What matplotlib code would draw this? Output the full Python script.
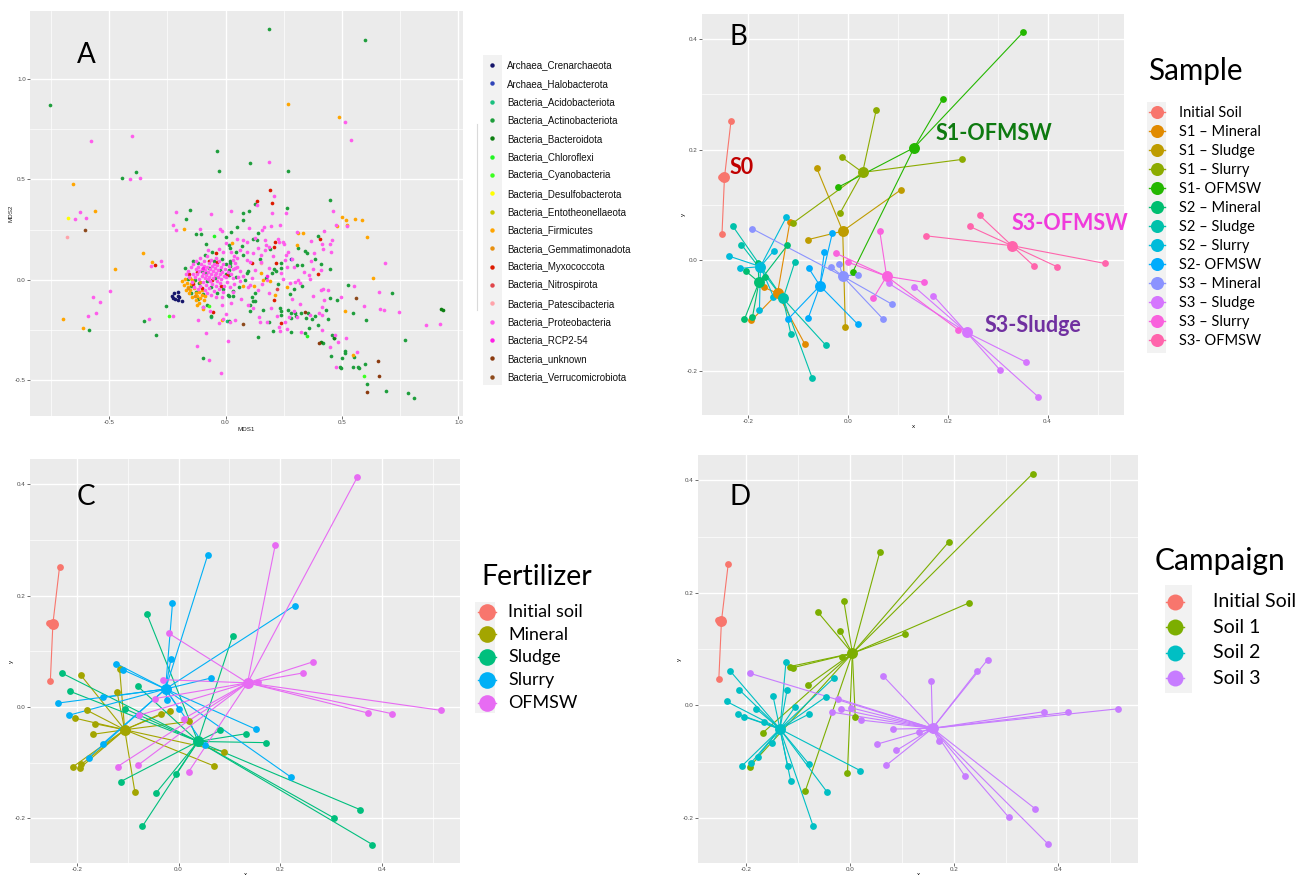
import matplotlib
matplotlib.use("Agg")
import matplotlib.pyplot as plt
from matplotlib.lines import Line2D
from matplotlib.patches import Rectangle
import pandas as pd

plt.rcParams["axes.unicode_minus"] = False
plt.rcParams["font.family"] = ["Liberation Sans", "DejaVu Sans"]

W, H = 1299, 875

# ---------------- panel A : MDS of taxa ----------------
crenarchaeota = [(-0.229, -0.081), (-0.220, -0.068), (-0.206, -0.063), (-0.203, -0.081), (-0.215, -0.096),
                 (-0.188, -0.105), (-0.205, -0.101), (-0.198, -0.088), (-0.224, -0.090)]
halobacterota = [(0.283, 0.101)]
acidobacteriota = [(-0.061, -0.186), (0.007, -0.204), (-0.097, -0.135)]
actinobacteriota = [
    (0.186, 1.248), (0.599, 1.196), (-0.755, 0.869), (-0.036, 0.641), (0.107, 0.583), (-0.026, 0.543),
    (0.270, 0.540), (-0.444, 0.508), (-0.384, 0.537), (0.716, -0.068), (0.772, -0.302), (0.785, -0.566),
    (0.808, -0.588), (0.688, -0.556), (0.607, -0.518), (0.600, -0.420), (0.568, -0.434), (0.572, -0.440),
    (0.548, -0.435), (0.550, -0.384), (0.512, -0.355), (0.515, -0.365), (0.501, -0.392), (0.495, -0.442),
    (0.491, -0.436), (0.451, -0.379), (0.418, -0.317), (0.602, -0.201), (0.548, -0.164), (0.528, -0.027),
    (-0.095, -0.390), (-0.349, -0.204), (-0.587, -0.252),
    (0.447, 0.395), (0.127, 0.377), (-0.152, 0.347), (0.074, 0.332), (0.102, 0.344), (0.266, 0.358),
    (-0.172, 0.301), (0.074, 0.296), (-0.129, 0.226), (-0.105, 0.229), (0.023, 0.236), (0.051, 0.264),
    (0.141, 0.234), (0.395, 0.218), (0.117, 0.201), (0.134, 0.198), (0.001, 0.211), (0.013, 0.173),
    (-0.084, 0.178), (0.018, 0.156), (0.046, 0.136), (0.070, 0.168), (0.074, 0.123), (0.193, 0.151),
    (0.341, 0.145), (0.349, 0.131), (0.239, 0.083), (0.238, 0.056), (0.206, 0.055), (0.215, 0.045),
    (0.199, 0.035), (0.307, 0.075), (0.330, 0.073), (0.411, 0.078), (0.447, 0.051), (0.098, 0.045),
    (0.092, 0.032), (0.017, 0.091), (0.018, 0.070), (0.014, 0.050), (0.000, 0.078), (0.084, -0.002),
    (0.013, 0.025), (0.057, -0.035), (0.292, -0.047), (0.275, -0.070), (0.127, -0.068), (0.115, -0.085),
    (0.127, -0.106), (0.105, -0.128), (0.448, -0.093), (0.478, -0.101), (0.030, -0.081), (0.014, -0.083),
    (0.107, -0.154), (0.141, -0.287), (0.240, -0.154), (0.240, -0.176), (0.280, -0.168), (0.283, -0.193),
    (0.299, -0.168), (0.326, -0.168), (0.346, -0.193), (0.383, -0.181), (0.440, -0.198), (0.397, -0.228),
    (0.340, -0.264), (0.458, -0.277), (0.464, -0.292), (0.283, -0.259), (-0.297, -0.276), (-0.255, -0.131),
    (0.186, -0.213), (0.119, -0.105), (0.016, -0.208), (-0.063, -0.179), (-0.081, -0.128), (0.233, -0.143),
    (0.269, -0.151), (0.302, -0.179), (0.371, -0.198), (0.354, -0.168),
    (-0.175, 0.060), (-0.160, 0.005), (-0.150, -0.030), (-0.140, 0.095), (-0.128, -0.060), (-0.118, 0.085),
    (-0.112, -0.015), (-0.100, 0.045), (-0.095, -0.070), (-0.088, 0.125), (-0.080, -0.005), (-0.070, 0.060),
    (-0.062, -0.035), (-0.050, 0.095), (-0.045, 0.010), (-0.035, -0.065), (-0.025, 0.050), (-0.015, 0.105),
    (-0.010, -0.045), (0.000, 0.030), (0.010, -0.075), (0.020, 0.085), (0.030, -0.055), (0.045, 0.015),
    (-0.130, 0.000), (-0.085, 0.035), (-0.058, 0.140), (-0.120, -0.095), (-0.150, -0.065),
    (0.150, 0.105), (0.175, 0.010), (0.225, -0.020), (0.330, -0.030), (0.385, 0.105), (0.310, 0.160),
    (0.160, -0.150), (0.205, -0.255), (0.360, -0.240), (0.430, -0.150)]
bacteroidota = [(0.926, -0.148), (0.935, -0.150), (0.464, -0.292), (0.411, -0.309)]
chloroflexi = [(-0.048, 0.219), (0.351, -0.281)]
cyanobacteria = [(0.595, -0.478), (-0.243, -0.181), (-0.070, -0.130)]
desulfobacterota = [(-0.676, 0.306)]
entotheonellaeota = [(-0.140, -0.012)]
firmicutes = [
    (0.270, 0.874), (0.486, 0.812), (-0.654, 0.478), (-0.560, 0.344), (0.555, 0.304), (0.587, 0.296),
    (0.606, 0.211), (0.633, 0.010), (-0.474, 0.051), (-0.353, 0.135), (-0.698, -0.198), (-0.613, -0.239),
    (0.549, -0.374), (0.502, 0.314), (0.519, 0.297), (-0.178, 0.251), (0.312, 0.231), (0.331, 0.231),
    (0.521, 0.274), (0.028, 0.184), (0.307, 0.173), (0.152, 0.033), (0.266, -0.037), (0.193, -0.007),
    (0.162, -0.002), (0.077, -0.032), (0.124, -0.033), (0.212, -0.076), (0.511, -0.158), (-0.017, -0.201),
    (-0.317, 0.090), (0.478, 0.267),
    (-0.186, -0.005), (-0.175, 0.002), (-0.165, -0.015), (-0.179, -0.027), (-0.161, -0.035), (-0.147, -0.023),
    (-0.151, -0.051), (-0.137, -0.043), (-0.129, -0.068), (-0.115, -0.060), (-0.101, -0.076), (-0.144, -0.088),
    (-0.129, -0.101), (-0.115, -0.118), (-0.094, -0.101), (-0.087, -0.081), (-0.169, -0.051), (-0.158, -0.068),
    (-0.122, -0.081), (-0.108, -0.093), (-0.144, -0.002), (-0.101, -0.051), (-0.097, -0.148), (-0.122, -0.126),
    (-0.151, 0.007)]
gemmatimonadota = [(-0.160, -0.040), (-0.130, -0.080), (-0.110, -0.010)]
myxococcota = [
    (0.193, 0.445), (0.134, 0.390), (0.198, 0.380), (0.404, 0.203), (-0.043, 0.135), (0.206, 0.164),
    (0.212, 0.186), (0.215, 0.083), (0.112, 0.081), (0.397, 0.028), (0.206, -0.101), (0.007, 0.023),
    (0.238, -0.218), (-0.054, -0.159), (-0.304, 0.073), (-0.122, 0.040), (-0.070, 0.095), (-0.037, 0.090),
    (-0.140, -0.020), (-0.100, -0.040), (-0.060, 0.000), (-0.020, -0.030), (-0.155, 0.030)]
nitrospirota = [(0.223, -0.045)]
patescibacteria = [(-0.681, 0.214), (0.152, 0.085)]
proteobacteria = [
    (0.511, 0.786), (0.539, 0.698), (-0.580, 0.691), (-0.401, 0.719), (0.188, 0.588), (-0.411, 0.502),
    (-0.366, 0.507), (-0.626, 0.336), (-0.647, 0.301), (-0.600, 0.307), (0.687, 0.085), (0.660, -0.060),
    (0.663, -0.145), (0.679, -0.151), (0.747, -0.159), (0.859, -0.226), (0.922, -0.223), (0.563, -0.362),
    (0.475, -0.434), (0.448, -0.336), (0.481, -0.309), (0.552, -0.032), (0.596, -0.133), (0.010, -0.306),
    (-0.018, -0.465), (-0.073, -0.402), (-0.124, -0.331), (-0.330, -0.196), (-0.498, -0.055), (-0.570, -0.085),
    (-0.541, -0.111), (-0.558, -0.168), (-0.590, -0.179),
    (0.461, 0.344), (-0.211, 0.336), (-0.063, 0.329), (0.023, 0.344), (0.198, 0.334), (0.259, 0.332),
    (-0.226, 0.271), (-0.212, 0.246), (-0.108, 0.254), (-0.023, 0.251), (-0.017, 0.241), (0.102, 0.259),
    (0.166, 0.261), (0.196, 0.267), (0.232, 0.272), (0.156, 0.249), (0.306, 0.236), (0.422, 0.244),
    (0.475, 0.271), (0.127, 0.209), (0.457, 0.198), (0.168, 0.198), (0.048, 0.201), (0.073, 0.198),
    (0.001, 0.181), (-0.077, 0.146), (-0.027, 0.151), (-0.013, 0.136), (0.024, 0.138), (0.064, 0.146),
    (0.094, 0.140), (0.119, 0.131), (0.151, 0.123), (0.172, 0.174), (0.169, 0.148), (0.186, 0.164),
    (0.226, 0.203), (0.230, 0.189), (0.248, 0.189), (0.252, 0.178), (0.269, 0.140), (0.259, 0.121),
    (0.367, 0.194), (0.378, 0.135), (0.415, 0.178), (0.420, 0.153), (0.448, 0.178), (0.451, 0.136),
    (0.257, 0.100), (0.240, 0.035), (0.262, 0.065), (0.292, 0.063), (0.368, 0.093), (0.411, 0.047),
    (0.374, 0.053), (0.154, 0.086), (0.107, 0.086), (0.127, 0.047), (0.091, 0.096), (0.063, 0.042),
    (0.051, 0.061), (0.041, 0.085), (0.048, 0.106), (0.037, 0.120), (0.033, 0.051), (0.360, 0.025),
    (0.361, 0.005), (0.313, -0.003), (0.300, -0.012), (0.319, -0.017), (0.279, -0.015), (0.179, -0.002),
    (0.155, -0.023), (0.075, 0.020), (0.055, 0.015), (0.031, 0.007), (0.063, -0.005), (0.098, -0.035),
    (0.105, -0.027), (0.410, -0.053), (0.417, -0.045), (0.440, -0.051), (0.098, -0.126), (0.425, -0.100),
    (0.494, -0.088), (0.415, -0.138), (0.034, -0.060), (-0.017, -0.085), (0.024, -0.118), (-0.016, -0.126),
    (0.119, -0.143), (0.145, -0.184), (0.148, -0.213), (0.176, -0.209), (0.219, -0.181), (0.233, -0.256),
    (0.229, -0.234), (0.272, -0.184), (0.292, -0.154), (0.309, -0.184), (0.364, -0.176), (0.403, -0.164),
    (0.413, -0.252), (0.265, -0.248), (0.041, -0.201), (0.020, -0.209), (-0.009, -0.194), (0.001, -0.173),
    (-0.030, -0.218), (-0.084, -0.266), (-0.119, -0.201), (-0.098, -0.136), (-0.065, -0.154), (-0.225, -0.181),
    (-0.279, 0.093), (-0.272, 0.068), (-0.321, 0.068), (0.471, -0.276), (0.519, -0.291), (0.208, 0.419),
    (0.134, 0.374), (0.521, 0.266), (0.415, -0.176), (0.326, -0.262),
    (-0.160, 0.045), (-0.150, 0.062), (-0.141, 0.030), (-0.138, 0.078), (-0.133, 0.012), (-0.129, 0.052),
    (-0.125, 0.094), (-0.121, 0.027), (-0.118, 0.065), (-0.114, 0.003), (-0.112, 0.041), (-0.109, 0.108),
    (-0.106, 0.080), (-0.103, 0.018), (-0.101, 0.055), (-0.098, -0.012), (-0.096, 0.033), (-0.094, 0.070),
    (-0.092, 0.095), (-0.089, 0.010), (-0.087, 0.046), (-0.085, -0.025), (-0.083, 0.024), (-0.081, 0.062),
    (-0.079, 0.118), (-0.077, 0.003), (-0.075, 0.036), (-0.073, 0.083), (-0.071, -0.040), (-0.069, 0.015),
    (-0.067, 0.052), (-0.065, -0.008), (-0.063, 0.028), (-0.061, 0.100), (-0.059, 0.066), (-0.057, -0.020),
    (-0.055, 0.042), (-0.053, 0.008), (-0.051, 0.080), (-0.049, -0.055), (-0.047, 0.022), (-0.045, 0.058),
    (-0.043, -0.032), (-0.041, 0.110), (-0.039, 0.035), (-0.037, -0.005), (-0.035, 0.072), (-0.033, 0.015),
    (-0.031, 0.048), (-0.029, -0.045), (-0.027, 0.092), (-0.025, 0.027), (-0.023, -0.018), (-0.021, 0.063),
    (-0.019, 0.005), (-0.016, 0.040), (-0.013, -0.062), (-0.010, 0.078), (-0.008, 0.020), (-0.005, -0.030),
    (-0.002, 0.055), (0.002, 0.012), (0.006, -0.010), (0.010, 0.038), (0.015, 0.070), (0.020, -0.038),
    (0.025, 0.028), (0.030, 0.100), (0.035, -0.020), (0.040, 0.060), (-0.145, -0.010), (-0.155, 0.015),
    (-0.170, 0.030), (-0.135, -0.035), (-0.120, -0.045), (-0.108, -0.030), (-0.090, -0.050), (-0.080, -0.065),
    (-0.062, -0.075), (-0.040, -0.085),
    (0.140, 0.160), (0.205, 0.120), (0.285, 0.105), (0.185, 0.060), (0.335, 0.040), (0.245, 0.005),
    (0.140, -0.050), (0.195, -0.140), (0.255, -0.210), (0.320, -0.120), (0.375, -0.080), (0.065, -0.095),
    (0.090, 0.190), (0.115, 0.010), (0.285, -0.095), (0.185, -0.065)]
rcp2_54 = [(-0.095, 0.060), (0.180, 0.020)]
unknown = [(0.607, -0.561), (0.660, -0.480), (0.656, -0.405), (0.400, -0.314), (0.340, -0.161)]
verrucomicrobiota = [(-0.605, 0.246), (0.560, -0.090), (0.073, -0.221)]

phyla = ["Archaea_Crenarchaeota", "Archaea_Halobacterota", "Bacteria_Acidobacteriota",
         "Bacteria_Actinobacteriota", "Bacteria_Bacteroidota", "Bacteria_Chloroflexi",
         "Bacteria_Cyanobacteria", "Bacteria_Desulfobacterota", "Bacteria_Entotheonellaeota",
         "Bacteria_Firmicutes", "Bacteria_Gemmatimonadota", "Bacteria_Myxococcota",
         "Bacteria_Nitrospirota", "Bacteria_Patescibacteria", "Bacteria_Proteobacteria",
         "Bacteria_RCP2-54", "Bacteria_unknown", "Bacteria_Verrucomicrobiota"]
phylum_colors = ["#16166b", "#2f44b8", "#19c07f", "#1e9e3c", "#0d7f12", "#22f522",
                 "#3cff20", "#ffff00", "#c8c800", "#ffa500", "#e8900f", "#dd1a00",
                 "#e0454a", "#ffa3aa", "#ff5cec", "#ff1fe6", "#8b3a0e", "#8d4a1c"]
phylum_points = [crenarchaeota, halobacterota, acidobacteriota, actinobacteriota, bacteroidota,
                 chloroflexi, cyanobacteria, desulfobacterota, entotheonellaeota, firmicutes,
                 gemmatimonadota, myxococcota, nitrospirota, patescibacteria, proteobacteria,
                 rcp2_54, unknown, verrucomicrobiota]

# ---------------- panels B-D : samples ----------------
sample_labels = ["Initial Soil", "S1 \u2013 Mineral", "S1 \u2013 Sludge", "S1 \u2013 Slurry", "S1- OFMSW",
                 "S2 \u2013 Mineral", "S2 \u2013 Sludge", "S2 \u2013 Slurry", "S2- OFMSW",
                 "S3 \u2013 Mineral", "S3 \u2013 Sludge", "S3 \u2013 Slurry", "S3- OFMSW"]
initial_soil = [(-0.234, 0.251), (-0.254, 0.151), (-0.248, 0.149), (-0.252, 0.047)]
s1_mineral = [(-0.116, 0.069), (-0.168, -0.049), (-0.193, -0.109), (-0.086, -0.152)]
s1_sludge = [(-0.062, 0.166), (0.106, 0.127), (-0.080, 0.037), (-0.005, -0.120)]
s1_slurry = [(0.057, 0.272), (0.228, 0.182), (-0.012, 0.186), (-0.015, 0.086), (-0.110, 0.067)]
s1_ofmsw = [(0.351, 0.412), (0.190, 0.291), (-0.019, 0.132), (0.010, -0.021)]
s2_mineral = [(-0.180, -0.006), (-0.204, -0.020), (-0.165, -0.030), (-0.191, -0.103), (-0.207, -0.107), (-0.121, 0.027)]
s2_sludge = [(-0.230, 0.061), (-0.213, 0.028), (-0.106, -0.003), (-0.114, -0.134), (-0.044, -0.154), (-0.071, -0.214)]
s2_slurry = [(-0.123, 0.078), (-0.148, 0.017), (-0.237, 0.007), (-0.216, -0.015), (-0.149, -0.066), (-0.177, -0.091)]
s2_ofmsw = [(-0.031, 0.049), (-0.047, 0.015), (-0.078, -0.015), (-0.120, -0.107), (-0.079, -0.104), (0.020, -0.116)]
s3_mineral = [(-0.192, 0.057), (-0.034, -0.012), (-0.017, -0.007), (0.021, -0.026), (0.089, -0.080), (0.070, -0.106)]
s3_sludge = [(0.082, -0.042), (0.133, -0.048), (0.171, -0.064), (0.356, -0.184), (0.305, -0.199), (0.381, -0.247)]
s3_slurry = [(-0.023, 0.012), (0.001, -0.004), (0.064, 0.052), (0.152, -0.040), (0.051, -0.069), (0.221, -0.126)]
s3_ofmsw = [(0.156, 0.044), (0.264, 0.081), (0.244, 0.061), (0.373, -0.011), (0.419, -0.012), (0.515, -0.006)]
sample_points = [initial_soil, s1_mineral, s1_sludge, s1_slurry, s1_ofmsw, s2_mineral, s2_sludge,
                 s2_slurry, s2_ofmsw, s3_mineral, s3_sludge, s3_slurry, s3_ofmsw]
sample_fertilizer = ["Initial soil", "Mineral", "Sludge", "Slurry", "OFMSW", "Mineral", "Sludge",
                     "Slurry", "OFMSW", "Mineral", "Sludge", "Slurry", "OFMSW"]
sample_campaign = ["Initial Soil", "Soil 1", "Soil 1", "Soil 1", "Soil 1", "Soil 2", "Soil 2",
                   "Soil 2", "Soil 2", "Soil 3", "Soil 3", "Soil 3", "Soil 3"]

sample_colors = ["#F8766D", "#E18A00", "#BE9C00", "#8CAB00", "#24B700", "#00BE70", "#00C1AB",
                 "#00BBDA", "#00ACFC", "#8B93FF", "#D575FE", "#F962DD", "#FF65AC"]
fertilizers = ["Initial soil", "Mineral", "Sludge", "Slurry", "OFMSW"]
fertilizer_colors = ["#F8766D", "#A3A500", "#00BF7D", "#00B0F6", "#E76BF3"]
campaigns = ["Initial Soil", "Soil 1", "Soil 2", "Soil 3"]
campaign_colors = ["#F8766D", "#7CAE00", "#00BFC4", "#C77CFF"]

rows = []
for lab, fert, camp, pts in zip(sample_labels, sample_fertilizer, sample_campaign, sample_points):
    for x, y in pts:
        rows.append({"x": x, "y": y, "sample": lab, "fertilizer": fert, "campaign": camp})
samples = pd.DataFrame(rows)

LEGEND_FONT = ["Lato", "DejaVu Sans"]


def rect(x0, y0, x1, y1):
    return [x0 / W, 1 - y1 / H, (x1 - x0) / W, (y1 - y0) / H]


def fx(x):
    return x / W


def fy(y):
    return 1 - y / H


def ggstyle(ax, major, minor, xlim, ylim):
    ax.set_facecolor("#EBEBEB")
    ax.set_xticks(major)
    ax.set_yticks(major)
    ax.set_xticks(minor, minor=True)
    ax.set_yticks(minor, minor=True)
    ax.set_xticklabels(["%.1f" % v for v in major])
    ax.set_yticklabels(["%.1f" % v for v in major])
    # limits after the ticks, otherwise set_xticks widens the view
    ax.set_xlim(*xlim)
    ax.set_ylim(*ylim)
    ax.grid(True, which="major", color="white", lw=1.0)
    ax.grid(True, which="minor", color="white", lw=0.5)
    ax.set_axisbelow(True)
    for s in ax.spines.values():
        s.set_visible(False)
    ax.tick_params(which="major", length=2, width=0.5, color="#333333", labelsize=4.5,
                   labelcolor="#4D4D4D", pad=1)
    ax.tick_params(which="minor", length=0)


def spider(ax, key, levels, colors):
    cen = samples.groupby(key)[["x", "y"]].mean()
    for lev, col in zip(levels, colors):
        sub = samples[samples[key] == lev]
        cx, cy = cen.loc[lev, "x"], cen.loc[lev, "y"]
        for x, y in zip(sub["x"], sub["y"]):
            ax.plot([x, cx], [y, cy], color=col, lw=0.8, zorder=2)
    for lev, col in zip(levels, colors):
        sub = samples[samples[key] == lev]
        ax.scatter(sub["x"], sub["y"], s=24, color=col, lw=0, zorder=3)
    for lev, col in zip(levels, colors):
        ax.scatter(cen.loc[lev, "x"], cen.loc[lev, "y"], s=62, color=col, lw=0, zorder=4)


def legend_block(fig, title, title_xy, title_fs, labels, colors, key_x, text_x, y0, dy, ms, fs,
                 base_off, bg, half):
    fig.text(fx(title_xy[0]), fy(title_xy[1]), title, fontsize=title_fs, va="baseline",
             family=LEGEND_FONT)
    fig.add_artist(Rectangle((fx(bg[0]), fy(bg[3])), (bg[2] - bg[0]) / W, (bg[3] - bg[1]) / H,
                             transform=fig.transFigure, color="#F2F2F2", lw=0, zorder=0))
    for i, (lab, col) in enumerate(zip(labels, colors)):
        y = y0 + i * dy
        fig.add_artist(Line2D([fx(key_x - half), fx(key_x + half)], [fy(y), fy(y)],
                              transform=fig.transFigure, color=col, lw=1.0))
        fig.add_artist(Line2D([fx(key_x)], [fy(y)], transform=fig.transFigure, marker="o",
                              ms=ms, color=col, mec="none", lw=0))
        fig.text(fx(text_x), fy(y + base_off), lab, fontsize=fs, va="baseline", ha="left",
                 family=LEGEND_FONT)


fig = plt.figure(figsize=(W / 100, H / 100), dpi=100)

# ---- A ----
axA = fig.add_axes(rect(30, 11, 463, 416))
ggstyle(axA, [-0.5, 0.0, 0.5, 1.0], [-0.75, -0.25, 0.25, 0.75], (-0.84, 1.02), (-0.68, 1.34))
for pts, col in zip(phylum_points, phylum_colors):
    axA.scatter([p[0] for p in pts], [p[1] for p in pts], s=7, color=col, lw=0, zorder=3)
axA.set_xlabel("MDS1", fontsize=4.5, color="#222222", labelpad=1)
axA.set_ylabel("MDS2", fontsize=4.5, color="#222222", labelpad=1)

fig.add_artist(Rectangle((fx(483), fy(385)), 19 / W, 330 / H, transform=fig.transFigure,
                         color="#F2F2F2", lw=0, zorder=0))
for i, (lab, col) in enumerate(zip(phyla, phylum_colors)):
    y = 65 + i * 18.33
    fig.add_artist(Line2D([fx(492)], [fy(y)], transform=fig.transFigure, marker="o", ms=3.2,
                          color=col, mec="none", lw=0))
    fig.text(fx(507), fy(y + 3.4), lab, fontsize=7, va="baseline", ha="left", color="#111111")
fig.add_artist(Line2D([fx(477), fx(477)], [fy(124), fy(310)], transform=fig.transFigure,
                      color="#DADADA", lw=0.8))

# ---- B, C, D : spider plots ----
lims_x, lims_y = (-0.292, 0.553), (-0.280, 0.445)
maj = [-0.2, 0.0, 0.2, 0.4]
mnr = [-0.1, 0.1, 0.3, 0.5]
mnr_y = [-0.1, 0.1, 0.3]

for box, key, levels, colors in [((702, 14, 1124, 415), "sample", sample_labels, sample_colors),
                                 ((30, 459, 460, 863), "fertilizer", fertilizers, fertilizer_colors),
                                 ((698, 455, 1138, 863), "campaign", campaigns, campaign_colors)]:
    ax = fig.add_axes(rect(*box))
    ggstyle(ax, maj, mnr, lims_x, lims_y)
    ax.set_yticks(mnr_y, minor=True)
    ax.set_ylim(*lims_y)
    spider(ax, key, levels, colors)
    ax.set_xlabel("x", fontsize=4.5, labelpad=0)
    ax.set_ylabel("y", fontsize=4.5, labelpad=1)

# panel letters
for letter, (px, py) in zip("ABCD", [(86, 55), (738, 37), (86, 497), (740, 497)]):
    fig.text(fx(px), fy(py), letter, fontsize=20, ha="center", va="center", family=LEGEND_FONT)

# annotations in B
for txt, (px, py), col in [("S0", (742, 168), "#C00000"), ("S1-OFMSW", (994, 134), "#0E7A10"),
                           ("S3-OFMSW", (1070, 224), "#F03ADB"), ("S3-Sludge", (1033, 325), "#7030A0")]:
    fig.text(fx(px), fy(py), txt, fontsize=15.5, fontweight="bold", color=col, ha="center",
             va="center", family=LEGEND_FONT)

# legends B, C, D
legend_block(fig, "Sample", (1148, 80), 21.3, sample_labels, sample_colors, 1156.5, 1179, 112,
             19.0, 9.4, 10.5, 4.8, (1147, 102, 1166, 353), 8)
legend_block(fig, "Fertilizer", (481, 585), 20.5, fertilizers, fertilizer_colors, 487, 508, 611.7,
             22.75, 12, 12.9, 5.2, (475, 602, 495, 713), 9)
legend_block(fig, "Campaign", (1155, 570), 21.5, campaigns, campaign_colors, 1175, 1213, 601.7,
             25.5, 11.5, 14, 5.7, (1165, 585, 1192, 693), 9)

fig.savefig("out.png", dpi=100)
